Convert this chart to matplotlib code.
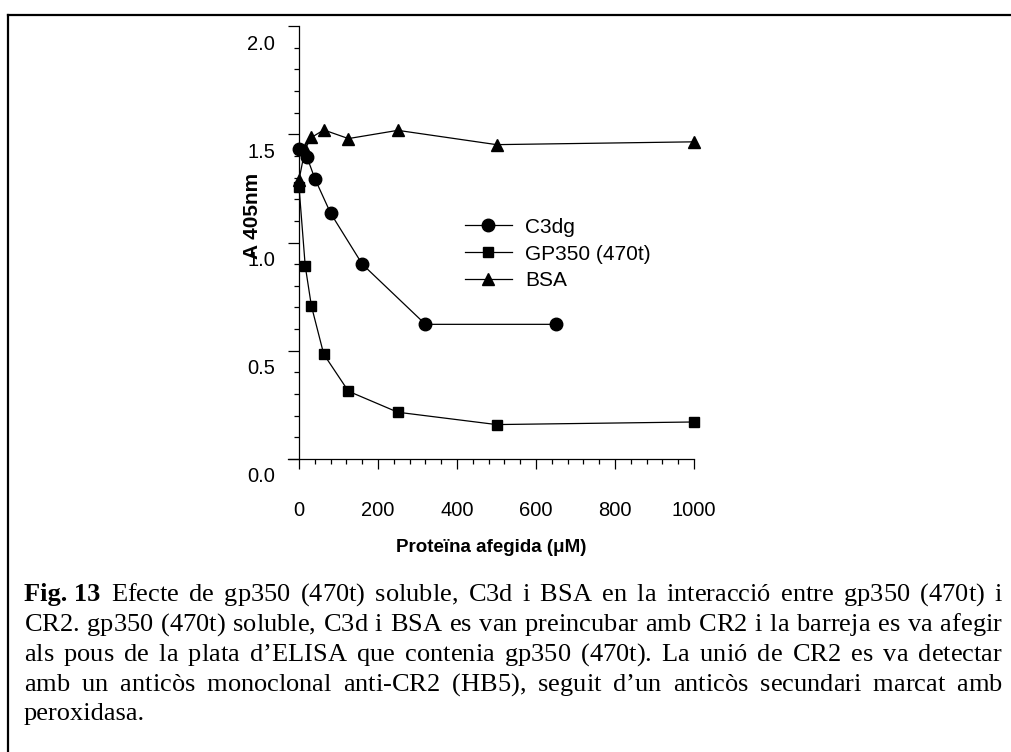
import matplotlib
matplotlib.use('Agg')
import matplotlib.pyplot as plt
from matplotlib.ticker import MultipleLocator, FixedLocator
from matplotlib.transforms import ScaledTranslation
from matplotlib.lines import Line2D

# ---- data ----
c3dg_x = [0, 20, 40, 80, 160, 320, 650]
c3dg_y = [1.43, 1.395, 1.295, 1.135, 0.90, 0.622, 0.622]
gp_x = [0, 15.6, 31.25, 62.5, 125, 250, 500, 1000]
gp_y = [1.255, 0.892, 0.707, 0.484, 0.313, 0.216, 0.159, 0.171]
bsa_x = [0, 15.6, 31.25, 62.5, 125, 250, 500, 1000]
bsa_y = [1.29, 1.434, 1.485, 1.52, 1.48, 1.518, 1.452, 1.465]

series_labels = ["C3dg", "GP350 (470t)", "BSA"]
x_ticks = [0, 200, 400, 600, 800, 1000]
y_ticks = [0.0, 0.5, 1.0, 1.5, 2.0]
y_ticklabels = ["0.0", "0.5", "1.0", "1.5", "2.0"]
x_label = "Proteïna afegida (\u03bcM)"
y_label = "A 405nm"

caption_bold = "Fig. 13"
caption_lines = [
    "Efecte de gp350 (470t) soluble, C3d i BSA en la interacció entre gp350 (470t) i",
    "CR2. gp350 (470t) soluble, C3d i BSA es van preincubar amb CR2 i la barreja es va afegir",
    "als pous de la plata d\u2019ELISA que contenia gp350 (470t). La unió de CR2 es va detectar",
    "amb un anticòs monoclonal anti-CR2 (HB5), seguit d\u2019un anticòs secundari marcat amb",
    "peroxidasa.",
]

W, H = 1012, 752
plt.rcParams['font.family'] = ['Liberation Sans', 'DejaVu Sans']
plt.rcParams['mathtext.fontset'] = 'custom'
plt.rcParams['mathtext.rm'] = 'Liberation Serif'
plt.rcParams['mathtext.it'] = 'Liberation Serif:italic'
plt.rcParams['mathtext.bf'] = 'Liberation Serif:bold'

fig = plt.figure(figsize=(W / 100, H / 100), dpi=100)
fig.patch.set_facecolor('white')

ax_left, ax_right, ax_top, ax_bottom = 288, 694, 26, 459
ax = fig.add_axes([ax_left / W, 1 - ax_bottom / H, (ax_right - ax_left) / W, (ax_bottom - ax_top) / H])
ax.set_facecolor('none')

mk = dict(color='black', linewidth=0.9, markeredgecolor='black', markerfacecolor='black')
ax.plot(c3dg_x, c3dg_y, marker='o', markersize=9, label=series_labels[0], clip_on=False, **mk)
ax.plot(gp_x, gp_y, marker='s', markersize=7.8, label=series_labels[1], clip_on=False, **mk)
ax.plot(bsa_x, bsa_y, marker='^', markersize=9, label=series_labels[2], clip_on=False, **mk)

ax.set_xlim(-28, 1000)
ax.set_ylim(0, 2.0)
ax.spines['top'].set_visible(False)
ax.spines['right'].set_visible(False)
ax.spines['left'].set_position(('data', 0))
for s in ('left', 'bottom'):
    ax.spines[s].set_linewidth(0.9)

ax.xaxis.set_major_locator(FixedLocator(x_ticks))
ax.xaxis.set_minor_locator(MultipleLocator(40))
ax.yaxis.set_major_locator(FixedLocator(y_ticks))
ax.set_yticklabels(y_ticklabels)
ax.yaxis.set_minor_locator(MultipleLocator(0.1))

ax.tick_params(axis='x', which='major', direction='out', length=7, width=0.9, pad=23, labelsize=14.5)
ax.tick_params(axis='x', which='minor', direction='out', length=3.6, width=0.9)
ax.tick_params(axis='y', which='major', direction='out', length=8, width=0.9, pad=9.4, labelsize=14.5)
ax.tick_params(axis='y', which='minor', direction='out', length=3.6, width=0.9)

off = ScaledTranslation(0, -0.16, fig.dpi_scale_trans)
for lab in ax.yaxis.get_majorticklabels():
    lab.set_transform(lab.get_transform() + off)

ax.set_xlabel(x_label, fontsize=13.5, fontweight='bold')
ax.xaxis.set_label_coords(0.5, (ax_bottom - 548) / (ax_bottom - ax_top))
ax.xaxis.label.set_verticalalignment('center')
ax.set_ylabel(y_label, fontsize=15, fontweight='bold')
ax.yaxis.set_label_coords((252 - ax_left) / (ax_right - ax_left), (ax_bottom - 216) / (ax_bottom - ax_top))
ax.yaxis.label.set_verticalalignment('center')

leg = ax.legend(loc='center left',
                bbox_to_anchor=((465 - ax_left) / (ax_right - ax_left), (ax_bottom - 254) / (ax_bottom - ax_top)),
                frameon=False, fontsize=15, handlelength=2.25, handletextpad=0.62,
                labelspacing=0.38, borderpad=0, borderaxespad=0, numpoints=1)

# ---- border (top and left) ----
fig.add_artist(Line2D([8 / W, 1], [1 - 15 / H, 1 - 15 / H], transform=fig.transFigure, color='black', lw=1.6))
fig.add_artist(Line2D([8 / W, 8 / W], [0, 1 - 15 / H], transform=fig.transFigure, color='black', lw=1.6))

# ---- justified caption ----
renderer = fig.canvas.get_renderer()
cap_font = dict(family=['Liberation Serif', 'DejaVu Serif'], fontsize=19, color='black')
cap_left, cap_right = 24, 1003
baselines = [601, 631, 661, 691, 720]


def tw(s, weight='normal'):
    t = fig.text(0, 0, s, fontweight=weight, **cap_font)
    w = t.get_window_extent(renderer).width
    t.remove()
    return w


space_w = tw('a a') - tw('aa')


def spaced(words, s):
    # one text per line; inter-word spacing widened with mathtext \hspace
    return ('$\\hspace{%.5f}$ ' % s).join(words)


def draw_mathtext_caption():
    made = []
    for i, line in enumerate(caption_lines):
        words = line.split(' ')
        ngap = len(words) - 1
        ybase = 1 - baselines[i] / H
        x0 = cap_left
        if i == 0:
            tb = fig.text(cap_left / W, ybase, caption_bold, va='baseline', ha='left',
                          fontweight='bold', **cap_font)
            made.append(tb)
            x0 = cap_left + tb.get_window_extent(renderer).width + space_w
        last = (i == len(caption_lines) - 1)
        w0 = tw(spaced(words, 0.0))
        w1 = tw(spaced(words, 1.0))
        unit = (w1 - w0) / ngap
        if last:
            e = 0.0
        else:
            n_total = ngap + (1 if i == 0 else 0)
            e = (cap_right - x0 - w0) / n_total
        if i == 0:
            x0 += e
        s = e / unit if unit > 0 else 0.0
        t = fig.text(x0 / W, ybase, spaced(words, s), va='baseline', ha='left', **cap_font)
        t.get_window_extent(renderer)
        made.append(t)
    return made


def draw_word_caption():
    for i, line in enumerate(caption_lines):
        words = ([caption_bold] if i == 0 else []) + line.split(' ')
        weights = ['bold' if (i == 0 and j == 0) else 'normal' for j in range(len(words))]
        widths = [tw(w, wt) for w, wt in zip(words, weights)]
        last = (i == len(caption_lines) - 1)
        gap = space_w if last else (cap_right - cap_left - sum(widths)) / (len(words) - 1)
        x = cap_left
        ybase = 1 - baselines[i] / H
        for w, wt, wd in zip(words, weights, widths):
            fig.text(x / W, ybase, w, va='baseline', ha='left', fontweight=wt, **cap_font)
            x += wd + gap


made = []
try:
    made = draw_mathtext_caption()
    fig.canvas.draw()
except Exception:
    for t in made:
        try:
            t.remove()
        except Exception:
            pass
    draw_word_caption()

fig.savefig('out.png', dpi=100, facecolor='white')
